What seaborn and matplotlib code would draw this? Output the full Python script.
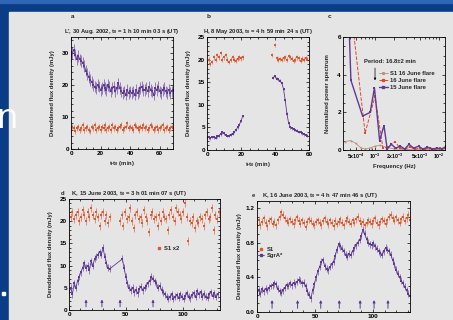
import numpy as np
import matplotlib
matplotlib.use('Agg')
import matplotlib.pyplot as plt
from matplotlib.patches import Rectangle
from matplotlib.lines import Line2D
from matplotlib.ticker import MultipleLocator, LogLocator, FixedLocator, FixedFormatter, NullFormatter
import seaborn as sns

# ---------------- data ----------------
# panel a  (L', 30 Aug 2002), 1-min sampling
a_step = 1.0
a_sgra = [29, 30, 31, 29.5, 28, 29, 28, 27.5, 27, 26,
          24.5, 23.5, 22.5, 21.5, 21, 20, 19.5, 19, 20, 19.5,
          18.5, 19, 20, 19, 18.5, 20, 19.5, 18, 19, 19.5,
          18, 19, 20.5, 19, 18, 17.5, 18, 17, 18.5, 17.5,
          18, 17.5, 18, 17, 18.5, 17.5, 18, 19, 19.5, 18.5,
          18.5, 19, 18, 19.5, 18.5, 18, 17, 19, 18.5, 19.5,
          18, 17.5, 18.5, 19, 18, 17.5, 18.5, 17.5, 18, 18.5]
a_s1 = [6, 7, 6.5, 5.5, 6.5, 7, 6, 6.5, 7.5, 6,
        6.5, 7, 6, 5.5, 7, 6.5, 7.5, 6, 6.5, 7,
        6, 7, 6.5, 7.5, 6, 6.5, 7, 6, 7.5, 6.5,
        7, 6, 6.5, 7, 7.5, 6, 6.5, 7, 8, 6.5,
        7, 6.5, 6, 7.5, 7, 6.5, 6, 7, 6.5, 7.5,
        6.5, 7, 6, 6.5, 7.5, 7, 6, 6.5, 7, 6,
        6.5, 7, 7.5, 6, 6.5, 7, 6, 6.5, 7, 6.5]

# panel b  (H, 8 May 2003): two observing segments
b_sgra_t1 = [0, 1, 2, 3, 4, 5, 6, 7, 8, 9, 10, 11, 12, 13, 14, 15, 16, 17, 18, 19, 20, 21]
b_sgra_v1 = [2.7, 2.8, 2.6, 2.9, 2.8, 2.7, 3.0, 3.2, 3.5, 3.9, 3.7, 3.3, 3.1, 3.2, 3.4,
             3.6, 4.0, 4.4, 5.0, 5.6, 6.4, 7.5]
b_sgra_t2 = [39, 40, 41, 42, 43, 44, 45, 46, 47, 48, 49, 50, 51, 52, 53, 54, 55, 56, 57, 58, 59]
b_sgra_v2 = [16.0, 16.3, 15.8, 15.6, 15.3, 14.8, 13.5, 11.0, 8.0, 6.0, 5.0, 4.8, 4.6, 4.4,
             4.3, 4.0, 3.9, 3.7, 3.5, 3.3, 3.2]
b_s1_t1 = [0, 1, 2, 3, 4, 5, 6, 7, 8, 9, 10, 11, 12, 13, 14, 15, 16, 17, 18, 19, 20, 21]
b_s1_v1 = [19.5, 20, 19, 19.5, 20.5, 20, 21, 20.5, 21.5, 20, 20.5, 21, 20, 19.5, 20, 20.5,
           20, 19.8, 20.2, 20.5, 20.3, 20.5]
b_s1_t2 = [38, 40, 41, 42, 43, 44, 45, 46, 47, 48, 49, 50, 51, 52, 53, 54, 55, 56, 57, 58, 59]
b_s1_v2 = [21, 23.2, 20.3, 20.0, 20.1, 20.0, 20.3, 20.6, 20.0, 20.8, 20.5, 20.2, 19.7, 20.0,
           20.5, 20.3, 19.8, 20.2, 20.0, 20.4, 20.1]

# panel c  power spectra
c_freq_s1 = [3.4e-4, 4.2e-4, 5.0e-4, 6.0e-4, 7.0e-4, 8.5e-4, 1.0e-3, 1.2e-3, 1.5e-3,
             2.0e-3, 3.0e-3, 5.0e-3, 8.0e-3, 1.2e-2]
c_pow_s1 = [0.45, 0.5, 0.35, 0.12, 0.05, 0.12, 0.2, 0.25, 0.15, 0.05, 0.03, 0.02, 0.02, 0.02]
c_freq_16 = [4.5e-4, 7.0e-4, 1.0e-3, 1.33e-3, 1.6e-3, 2.05e-3, 2.45e-3, 2.9e-3, 3.5e-3,
             4.2e-3, 5.0e-3, 6.0e-3, 7.2e-3, 8.6e-3, 1.03e-2, 1.23e-2]
c_pow_16 = [6.6, 0.9, 2.85, 0.08, 0.15, 0.45, 0.1, 0.05, 0.15, 0.05, 0.1, 0.05, 0.12, 0.04,
            0.08, 0.1]
c_freq_15 = [3.9e-4, 4.2e-4, 6.4e-4, 8.4e-4, 9.8e-4, 1.18e-3, 1.38e-3, 1.55e-3, 1.8e-3,
             2.1e-3, 2.5e-3, 2.9e-3, 3.4e-3, 4.0e-3, 4.8e-3, 5.6e-3, 6.6e-3, 7.8e-3,
             9.2e-3, 1.1e-2, 1.3e-2]
c_pow_15 = [7.0, 3.7, 1.8, 2.0, 3.3, 0.5, 1.3, 0.05, 0.3, 0.1, 0.2, 0.05, 0.3, 0.1, 0.2,
            0.05, 0.15, 0.05, 0.1, 0.05, 0.2]
c_labels = ['S1 16 June flare', '16 June flare', '15 June flare']
c_ticks = [5e-4, 1e-3, 2e-3, 5e-3, 1e-2]
c_ticklabels = [r'5x10$^{-4}$', r'10$^{-3}$', r'2x10$^{-3}$', r'5x10$^{-3}$', r'10$^{-2}$']

# panel d  (K, 15 June 2003), 1.5-min sampling, gap 36-47 min
d_step = 1.5
d_sgra_start = [0, 47]
d_sgra_seg1 = [4, 5, 3.5, 6, 5, 6.5, 7.5, 8.5, 9.5, 10.5, 9.5, 10, 9, 11, 10, 11.5, 12,
               12.5, 13, 12.5, 14, 12, 10.5, 9.5, 9.3]
d_sgra_seg2 = [11.5, 9.5, 7.5, 6, 5, 4.5, 5, 4, 4.5, 3.8, 4.8, 5.2, 4.5, 5, 5.5, 6, 6.5,
               7.5, 7, 6.5, 6, 5, 5.5, 4.5, 4, 3.5, 3, 2.5, 3, 3.5, 2.5, 3, 3.3, 2.8, 3.5,
               3, 2.5, 3.2, 3.8, 3, 2.6, 3.4, 3.8, 3, 4.2, 3.5, 4, 3, 3.6, 3, 2.8, 3.5, 4,
               3.2, 3.8, 3, 3.5]
d_s1_start = [0, 45]
d_s1_seg1 = [17, 21, 22, 20.5, 21.5, 22, 20, 21, 22.5, 21.5, 20, 22, 21, 23, 21.5, 20.5,
             22, 21, 19, 21.5, 22, 20, 21.5, 19.5, 21]
d_s1_seg2 = [20, 21.5, 19, 22, 20.5, 21, 23, 20, 18.5, 21.5, 22, 20.5, 21, 19.5, 22.5, 21,
             20, 17.5, 21.5, 22, 20.5, 21, 19, 21.5, 20, 22, 21, 20.5, 18, 21.5, 22.5, 21,
             20, 23, 22, 21.5, 20.5, 22, 24, 21, 15.5, 20, 19.5, 21, 18.5, 20, 19.5, 21,
             20.5, 19, 21.5, 22, 20.5, 21, 23, 18, 21.5, 20.5, 22]
d_arrows = [15, 29, 45, 74]

# panel e  (K, 16 June 2003), 1.5-min sampling
e_step = 1.5
e_sgra = [0.22, 0.25, 0.21, 0.26, 0.24, 0.27, 0.25, 0.28, 0.3, 0.31, 0.33, 0.32, 0.27,
          0.24, 0.22, 0.25, 0.28, 0.31, 0.3, 0.33, 0.31, 0.34, 0.32, 0.35, 0.37, 0.36,
          0.33, 0.34, 0.3, 0.24, 0.2, 0.16, 0.25, 0.32, 0.4, 0.47, 0.52, 0.58, 0.6, 0.53,
          0.5, 0.48, 0.52, 0.55, 0.58, 0.65, 0.72, 0.78, 0.76, 0.73, 0.7, 0.66, 0.64,
          0.67, 0.66, 0.7, 0.74, 0.77, 0.8, 0.83, 0.88, 0.95, 0.9, 0.84, 0.8, 0.78, 0.77,
          0.79, 0.76, 0.73, 0.7, 0.68, 0.66, 0.7, 0.74, 0.72, 0.7, 0.66, 0.6, 0.55, 0.49,
          0.44, 0.4, 0.36, 0.33, 0.29, 0.25, 0.21, 0.18]
e_s1 = [1.02, 1.06, 1.0, 1.04, 1.08, 1.03, 0.99, 1.05, 1.07, 1.02, 1.04, 1.0, 1.06, 1.1,
        1.15, 1.12, 1.08, 1.05, 1.03, 1.07, 1.04, 1.01, 1.06, 1.09, 1.05, 1.02, 1.06,
        1.03, 0.98, 1.04, 1.07, 1.05, 1.02, 1.0, 1.04, 1.06, 1.03, 1.0, 1.05, 1.08, 1.04,
        1.01, 1.06, 1.03, 0.99, 1.05, 1.02, 1.04, 1.07, 1.03, 1.0, 1.05, 1.08, 1.04, 1.02,
        1.06, 1.03, 1.07, 1.1, 1.05, 1.02, 1.04, 1.0, 1.03, 1.06, 1.04, 1.01, 1.05, 1.08,
        1.03, 1.0, 1.04, 1.07, 1.05, 1.02, 1.06, 1.1, 1.12, 1.08, 1.05, 1.09, 1.06, 1.03,
        1.07, 1.1, 1.05, 1.08, 1.12, 1.06]
e_arrows = [13, 35, 55, 71, 89, 101, 113]

titles = {
    'a': "L', 30 Aug. 2002, t$_0$ = 1 h 10 min 03 s (UT)",
    'b': "H, 8 May 2003, t$_0$ = 4 h 59 min 24 s (UT)",
    'd': "K, 15 June 2003, t$_0$ = 3 h 01 min 07 s (UT)",
    'e': "K, 16 June 2003, t$_0$ = 4 h 47 min 46 s (UT)",
}
ylab = 'Dereddened flux density (mJy)'
xlab_t = 't-t$_0$ (min)'

# ---------------- style ----------------
ORANGE = '#e0582f'
PURPLE = '#5f3a93'
BROWN = '#b8907c'
RED = '#e2462c'
GRAY = '#e5e5e5'
BLUE = '#0b3c86'

sns.set_theme(style='ticks')
plt.rcParams['font.family'] = ['Liberation Sans', 'DejaVu Sans']
plt.rcParams['font.weight'] = 'bold'
plt.rcParams['mathtext.default'] = 'regular'
plt.rcParams['axes.linewidth'] = 0.6

W, H = 453, 320
fig = plt.figure(figsize=(W / 100, H / 100), dpi=100, facecolor=BLUE)

# slide decoration (drawn beneath the axes)
fig.patches.append(Rectangle((0, 1 - 3 / H), 1, 3 / H, transform=fig.transFigure,
                             color='#2d66b5', zorder=-2))
fig.patches.append(Rectangle((9 / W, 0), 1 - 9 / W, 1 - 12 / H, transform=fig.transFigure,
                             color=GRAY, zorder=-2))


def add_ax(l, r, t, b):
    ax = fig.add_axes([l / W, 1 - b / H, (r - l) / W, (b - t) / H])
    ax.set_facecolor(GRAY)
    for s in ax.spines.values():
        s.set_visible(True)
        s.set_linewidth(0.6)
        s.set_color('black')
    ax.tick_params(which='both', direction='in', top=True, right=True, width=0.5,
                   labelsize=4.6, pad=1.5, colors='black')
    ax.tick_params(which='major', length=2.5)
    ax.tick_params(which='minor', length=1.3)
    return ax


def times(start, step, vals):
    return start + step * np.arange(len(vals))


def series(ax, t, v, color, err, line):
    ax.errorbar(t, v, yerr=err, fmt='none', ecolor=color, elinewidth=0.5, capsize=0,
                alpha=0.85)
    if line:
        sns.lineplot(x=t, y=v, ax=ax, color=color, lw=0.6, marker='s', markersize=1.8,
                     markeredgewidth=0, sort=False)
    else:
        sns.scatterplot(x=t, y=v, ax=ax, color=color, s=3.2, marker='s', linewidth=0)


fs = 4.2

# ---- panel a ----
ax = add_ax(71, 173, 37, 149)
series(ax, times(0, a_step, a_s1), a_s1, ORANGE, 0.9, False)
series(ax, times(0, a_step, a_sgra), a_sgra, PURPLE, 1.8, True)
ax.set_xlim(0, 69)
ax.set_ylim(0, 35)
ax.xaxis.set_major_locator(MultipleLocator(20))
ax.xaxis.set_minor_locator(MultipleLocator(5))
ax.yaxis.set_major_locator(MultipleLocator(10))
ax.yaxis.set_minor_locator(MultipleLocator(2))
ax.set_xlabel(xlab_t, fontsize=fs, labelpad=2, fontweight='bold')
ax.set_ylabel(ylab, fontsize=fs, labelpad=5, fontweight='bold')
ax.set_title(titles['a'], fontsize=fs, pad=3, fontweight='bold')
ax.text(0.0, 1.17, 'a', transform=ax.transAxes, fontsize=4.6, fontweight='bold')

# ---- panel b ----
ax = add_ax(207, 309, 37, 150)
series(ax, b_s1_t1, b_s1_v1, ORANGE, 0.5, False)
series(ax, b_s1_t2, b_s1_v2, ORANGE, 0.5, False)
series(ax, b_sgra_t1, b_sgra_v1, PURPLE, 0.3, True)
series(ax, b_sgra_t2, b_sgra_v2, PURPLE, 0.3, True)
ax.set_xlim(0, 60)
ax.set_ylim(0, 25)
ax.xaxis.set_major_locator(MultipleLocator(20))
ax.xaxis.set_minor_locator(MultipleLocator(5))
ax.yaxis.set_major_locator(MultipleLocator(5))
ax.yaxis.set_minor_locator(MultipleLocator(1))
ax.set_xlabel(xlab_t, fontsize=fs, labelpad=2, fontweight='bold')
ax.set_ylabel(ylab, fontsize=fs, labelpad=5, fontweight='bold')
ax.set_title(titles['b'], fontsize=fs, pad=3, fontweight='bold')
ax.text(0.0, 1.17, 'b', transform=ax.transAxes, fontsize=4.6, fontweight='bold')

# ---- panel c ----
ax = add_ax(343, 445, 37, 150)
sns.lineplot(x=c_freq_s1, y=c_pow_s1, ax=ax, color=BROWN, lw=0.6, marker='s',
             markersize=1.2, markeredgewidth=0, sort=False)
sns.lineplot(x=c_freq_16, y=c_pow_16, ax=ax, color=RED, lw=0.7, marker='s',
             markersize=1.6, markeredgewidth=0, sort=False, linestyle='--')
sns.lineplot(x=c_freq_15, y=c_pow_15, ax=ax, color=PURPLE, lw=1.0, marker='s',
             markersize=1.8, markeredgewidth=0, sort=False)
ax.set_xscale('log')
ax.set_xlim(3.16e-4, 1.24e-2)
ax.set_ylim(0, 6)
ax.xaxis.set_major_locator(FixedLocator(c_ticks))
ax.xaxis.set_major_formatter(FixedFormatter(c_ticklabels))
ax.xaxis.set_minor_locator(LogLocator(base=10, subs=np.arange(1, 10)))
ax.xaxis.set_minor_formatter(NullFormatter())
ax.tick_params(axis='x', labelsize=3.7)
ax.yaxis.set_major_locator(MultipleLocator(2))
ax.yaxis.set_minor_locator(MultipleLocator(0.5))
ax.set_xlabel('Frequency (Hz)', fontsize=fs, labelpad=2, fontweight='bold')
ax.set_ylabel('Normalized power spectrum', fontsize=fs, labelpad=5, fontweight='bold')
ax.text(-0.15, 1.17, 'c', transform=ax.transAxes, fontsize=4.6, fontweight='bold')
ax.text(1.7e-3, 4.72, 'Period: 16.8\u00b12 min', fontsize=fs, ha='center', va='center',
        fontweight='bold')
ax.annotate('', xy=(1.0e-3, 3.55), xytext=(1.0e-3, 4.5),
            arrowprops=dict(arrowstyle='-|>', lw=0.5, color='black', mutation_scale=3))
handles = [Line2D([], [], color=BROWN, lw=0.6, marker='s', markersize=1.2),
           Line2D([], [], color=RED, lw=0.7, ls='--', marker='s', markersize=1.6),
           Line2D([], [], color=PURPLE, lw=1.0, marker='s', markersize=1.8)]
ax.legend(handles, c_labels, loc='upper left', bbox_to_anchor=(0.35, 0.70), frameon=False,
          fontsize=fs, handlelength=1.6, handletextpad=0.4, borderpad=0, labelspacing=0.3,
          borderaxespad=0)

# ---- panel d ----
ax = add_ax(69, 220, 199, 310)
series(ax, times(d_s1_start[0], d_step, d_s1_seg1), d_s1_seg1, ORANGE, 0.9, False)
series(ax, times(d_s1_start[1], d_step, d_s1_seg2), d_s1_seg2, ORANGE, 0.9, False)
d_t = np.concatenate([times(d_sgra_start[0], d_step, d_sgra_seg1),
                      times(d_sgra_start[1], d_step, d_sgra_seg2)])
d_v = np.concatenate([d_sgra_seg1, d_sgra_seg2])
series(ax, d_t, d_v, PURPLE, 0.8, True)
for t in d_arrows:
    ax.annotate('', xy=(t, 3.0), xytext=(t, 0.1),
                arrowprops=dict(arrowstyle='-|>', lw=0.7, color=PURPLE, mutation_scale=3.5))
ax.set_xlim(0, 133)
ax.set_ylim(0, 25)
ax.xaxis.set_major_locator(MultipleLocator(50))
ax.xaxis.set_minor_locator(MultipleLocator(10))
ax.yaxis.set_major_locator(MultipleLocator(5))
ax.yaxis.set_minor_locator(MultipleLocator(1))
ax.set_ylabel(ylab, fontsize=fs, labelpad=5, fontweight='bold')
ax.set_title('d     ' + titles['d'], fontsize=fs, pad=3, fontweight='bold', loc='left',
             x=-0.06)
ax.legend([Line2D([], [], color=ORANGE, lw=0, marker='s', markersize=1.8)], ['S1 x2'],
          loc='upper left', bbox_to_anchor=(0.58, 0.575), frameon=False, fontsize=fs,
          handlelength=0.8, handletextpad=0.4, borderpad=0, borderaxespad=0)

# ---- panel e ----
ax = add_ax(257, 410, 201, 312)
series(ax, times(0, e_step, e_s1), e_s1, ORANGE, 0.04, False)
series(ax, times(0, e_step, e_sgra), e_sgra, PURPLE, 0.04, True)
for t in e_arrows:
    ax.annotate('', xy=(t, 0.17), xytext=(t, 0.01),
                arrowprops=dict(arrowstyle='-|>', lw=0.7, color=PURPLE, mutation_scale=3.5))
ax.set_xlim(0, 132)
ax.set_ylim(0, 1.28)
ax.xaxis.set_major_locator(MultipleLocator(50))
ax.xaxis.set_minor_locator(MultipleLocator(10))
ax.yaxis.set_major_locator(MultipleLocator(0.4))
ax.yaxis.set_minor_locator(MultipleLocator(0.1))
ax.set_ylabel(ylab, fontsize=fs, labelpad=3, fontweight='bold')
ax.set_title('e     ' + titles['e'], fontsize=fs, pad=3, fontweight='bold', loc='left',
             x=-0.04)
ax.legend([Line2D([], [], color=ORANGE, lw=0, marker='s', markersize=1.8),
           Line2D([], [], color=PURPLE, lw=0.6, marker='s', markersize=1.8)],
          ['S1', 'SgrA*'], loc='upper left', bbox_to_anchor=(0.0, 0.59), frameon=False,
          fontsize=fs, handlelength=1.2, handletextpad=0.4, borderpad=0, labelspacing=0.3,
          borderaxespad=0)

# slide text over the figure
fig.text(-3 / W, 1 - 128 / H, 'n', color='white', fontsize=25, family='Open Sans',
         fontweight='normal', va='baseline', ha='left')
fig.patches.append(Rectangle((2 / W, 1 - 295 / H), 3 / W, 3 / H, transform=fig.transFigure,
                             color='white', zorder=5))

fig.savefig('out.png', dpi=100, facecolor=fig.get_facecolor())
